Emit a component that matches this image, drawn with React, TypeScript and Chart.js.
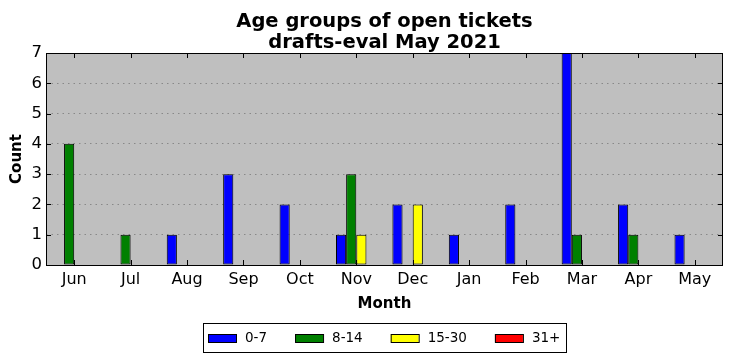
import { useEffect, useRef } from "react";
import { Chart, registerables } from "chart.js";

Chart.register(...registerables);

const categories = ["Jun", "Jul", "Aug", "Sep", "Oct", "Nov", "Dec", "Jan", "Feb", "Mar", "Apr", "May"];
const seriesLabels = ["0-7", "8-14", "15-30", "31+"];
const age0to7 = [0, 0, 1, 3, 2, 1, 2, 1, 2, 7, 2, 1];
const age8to14 = [4, 1, 0, 0, 0, 3, 0, 0, 0, 1, 1, 0];
const age15to30 = [0, 0, 0, 0, 0, 1, 2, 0, 0, 0, 0, 0];
const age31plus = [0, 0, 0, 0, 0, 0, 0, 0, 0, 0, 0, 0];
const seriesColors = ["#0000ff", "#008000", "#ffff00", "#ff0000"];
const yMin = 0;
const yMax = 7;
const titleLines = ["Age groups of open tickets", "drafts-eval May 2021"];
const xTitle = "Month";
const yTitle = "Count";

const FONT = "'DejaVu Sans', 'Liberation Sans', sans-serif";

const bgPlugin = {
  id: "bgPlugin",
  beforeDraw(chart: any) {
    const { ctx, chartArea } = chart;
    ctx.save();
    ctx.fillStyle = "#ffffff";
    ctx.fillRect(0, 0, chart.width, chart.height);
    ctx.fillStyle = "#bfbfbf";
    ctx.fillRect(chartArea.left, chartArea.top, chartArea.right - chartArea.left, chartArea.bottom - chartArea.top);
    ctx.restore();
  },
};

const titlePlugin = {
  id: "titlePlugin",
  afterDraw(chart: any) {
    const { ctx, chartArea } = chart;
    const cx = (chartArea.left + chartArea.right) / 2;
    ctx.save();
    ctx.fillStyle = "#000000";
    ctx.font = `bold 19.5px ${FONT}`;
    ctx.textAlign = "center";
    ctx.textBaseline = "alphabetic";
    titleLines.forEach((t, i) => {
      ctx.fillText(t, cx, chartArea.top - 26.5 + i * 21.8);
    });
    ctx.restore();
  },
};

const framePlugin = {
  id: "framePlugin",
  afterDatasetsDraw(chart: any) {
    const { ctx, chartArea, scales } = chart;
    const { left, right, top, bottom } = chartArea;
    const tl = 5;
    ctx.save();
    ctx.strokeStyle = "#000000";
    ctx.lineWidth = 1;
    ctx.beginPath();
    categories.forEach((_, i) => {
      const px = Math.round(scales.x.getPixelForTick(i)) + 0.5;
      ctx.moveTo(px, bottom);
      ctx.lineTo(px, bottom - tl);
      ctx.moveTo(px, top);
      ctx.lineTo(px, top + tl);
    });
    for (let v = yMin; v <= yMax; v++) {
      const py = Math.round(scales.y.getPixelForValue(v)) + 0.5;
      ctx.moveTo(left, py);
      ctx.lineTo(left + tl, py);
      ctx.moveTo(right, py);
      ctx.lineTo(right - tl, py);
    }
    ctx.stroke();
    ctx.strokeRect(Math.round(left) + 0.5, Math.round(top) + 0.5, Math.round(right - left) - 1, Math.round(bottom - top));
    ctx.restore();
  },
};

const legendPlugin = {
  id: "legendPlugin",
  afterDraw(chart: any) {
    const { ctx, chartArea } = chart;
    const ds = chart.data.datasets;
    ctx.save();
    ctx.font = `13.5px ${FONT}`;
    const swW = 28, swH = 8, textGap = 9, itemGap = 28, padX = 5, padR = 6;
    const widths = ds.map((d: any) => swW + textGap + ctx.measureText(d.label).width);
    const total = padX + padR + widths.reduce((a: number, b: number) => a + b, 0) + itemGap * (ds.length - 1);
    const cx = (chartArea.left + chartArea.right) / 2;
    const boxLeft = Math.round(cx - total / 2);
    const boxTop = chart.height - 38;
    const boxH = 29;
    ctx.fillStyle = "#ffffff";
    ctx.fillRect(boxLeft, boxTop, total, boxH);
    ctx.strokeStyle = "#000000";
    ctx.lineWidth = 1;
    ctx.strokeRect(boxLeft + 0.5, boxTop + 0.5, Math.round(total), boxH);
    let x = boxLeft + padX;
    const midY = boxTop + boxH / 2;
    ds.forEach((d: any, i: number) => {
      const sy = Math.round(midY - swH / 2);
      ctx.fillStyle = d.backgroundColor;
      ctx.fillRect(x, sy, swW, swH);
      ctx.strokeStyle = "#000000";
      ctx.strokeRect(x + 0.5, sy + 0.5, swW, swH);
      ctx.fillStyle = "#000000";
      ctx.textBaseline = "middle";
      ctx.textAlign = "left";
      ctx.fillText(d.label, x + swW + textGap, midY + 1);
      x += widths[i] + itemGap;
    });
    ctx.restore();
  },
};

export default function App() {
  const ref = useRef<HTMLCanvasElement | null>(null);

  useEffect(() => {
    document.body.style.margin = "0";
    const canvas = ref.current;
    if (!canvas) return;
    const seriesValues = [age0to7, age8to14, age15to30, age31plus];
    const chart = new Chart(canvas, {
      type: "bar",
      data: {
        labels: categories,
        datasets: seriesValues.map((vals, i) => ({
          label: seriesLabels[i],
          data: vals,
          backgroundColor: seriesColors[i],
          borderColor: "#000000",
          borderWidth: 1,
          borderSkipped: false,
          categoryPercentage: 0.72,
          barPercentage: 1.0,
        })),
      },
      options: {
        animation: false,
        responsive: false,
        devicePixelRatio: 1,
        layout: { padding: { top: 53, right: 9, bottom: 48, left: 0 } },
        plugins: {
          legend: { display: false },
          tooltip: { enabled: false },
          title: { display: false },
        },
        scales: {
          x: {
            offset: true,
            grid: { display: false, drawTicks: false },
            border: { display: false },
            ticks: { color: "#000000", font: { family: FONT, size: 16 }, padding: 5, maxRotation: 0 },
            title: {
              display: true,
              text: xTitle,
              color: "#000000",
              font: { family: FONT, size: 15, weight: "bold" },
              padding: { top: 1.6, bottom: 0 },
            },
            afterFit(scale: any) {
              scale.height = 48;
            },
          },
          y: {
            min: yMin,
            max: yMax,
            grid: {
              color: "#888888",
              lineWidth: 1,
              drawTicks: false,
            },
            border: { display: false, dash: [1.5, 4] },
            ticks: { stepSize: 1, color: "#000000", font: { family: FONT, size: 16.5 }, padding: 4 },
            title: {
              display: true,
              text: yTitle,
              color: "#000000",
              font: { family: FONT, size: 15, weight: "bold" },
              padding: { top: 8, bottom: 0 },
            },
            afterFit(scale: any) {
              scale.width = 46;
            },
          },
        },
      },
      plugins: [bgPlugin, framePlugin, legendPlugin, titlePlugin],
    });
    return () => chart.destroy();
  }, []);

  return (
    <div style={{ position: "absolute", left: 0, top: 0, width: 732, height: 361 }}>
      <canvas ref={ref} width={732} height={361} style={{ display: "block", width: 732, height: 361 }} />
    </div>
  );
}
